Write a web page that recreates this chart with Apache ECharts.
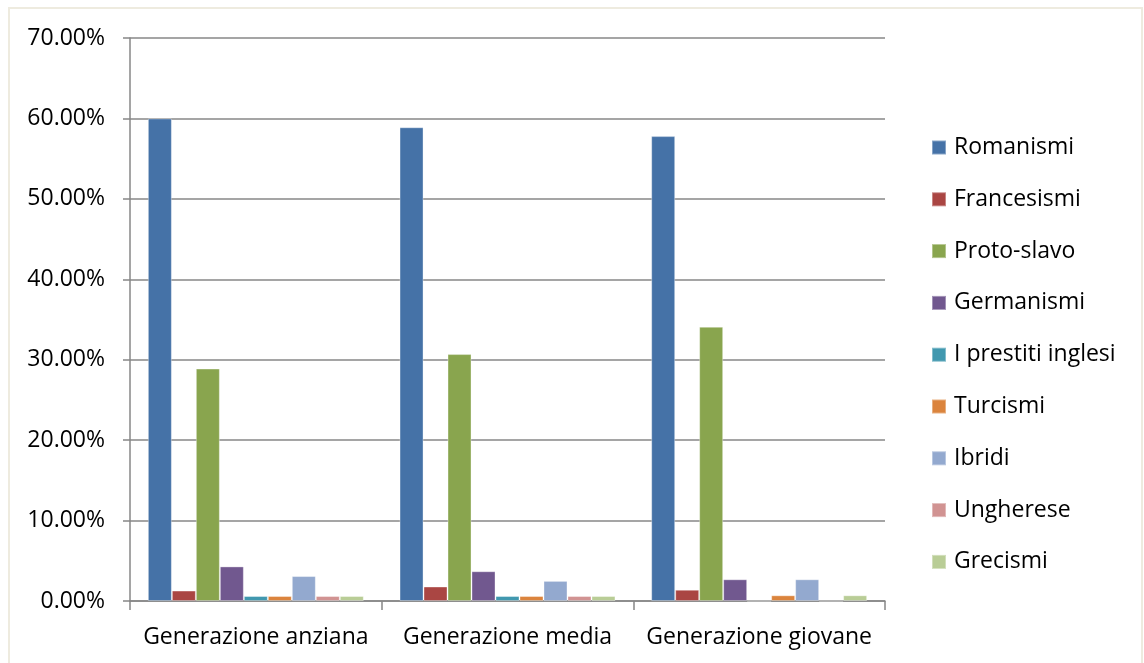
<!DOCTYPE html>
<html>
<head>
<meta charset="utf-8">
<script src="https://cdn.jsdelivr.net/npm/echarts@6/dist/echarts.min.js"></script>
<style>
html,body{margin:0;padding:0;background:#fff;}
#c{width:1144px;height:663px;}
</style>
</head>
<body>
<div id="c"></div>
<script>
const categories = ['Generazione anziana', 'Generazione media', 'Generazione giovane'];
const seriesNames = ['Romanismi', 'Francesismi', 'Proto-slavo', 'Germanismi', 'I prestiti inglesi', 'Turcismi', 'Ibridi', 'Ungherese', 'Grecismi'];
const romanismi = [60.0, 58.9, 57.8];
const francesismi = [1.3, 1.8, 1.4];
const protoSlavo = [28.9, 30.7, 34.1];
const germanismi = [4.3, 3.7, 2.7];
const prestitiInglesi = [0.62, 0.62, 0];
const turcismi = [0.62, 0.62, 0.71];
const ibridi = [3.1, 2.5, 2.7];
const ungherese = [0.62, 0.62, 0];
const grecismi = [0.62, 0.62, 0.71];
const yTicks = [0, 10, 20, 30, 40, 50, 60, 70];

const seriesValues = [romanismi, francesismi, protoSlavo, germanismi, prestitiInglesi, turcismi, ibridi, ungherese, grecismi];
const colors = ['#4572A7', '#AA4643', '#89A54E', '#71588F', '#4198AF', '#DB843D', '#93A9CF', '#D19392', '#B9CD96'];
const font = '"Open Sans", "Noto Sans", sans-serif';

const chart = echarts.init(document.getElementById('c'));
chart.setOption({
  animation: false,
  color: colors,
  graphic: [{
    type: 'rect',
    shape: {x: 9, y: 8, width: 1133, height: 670},
    style: {fill: 'none', stroke: '#eeebdf', lineWidth: 2},
    silent: true
  }],
  grid: {left: 130, right: 259, top: 38, bottom: 62},
  legend: {
    orient: 'vertical',
    left: 931,
    top: 136,
    padding: 0,
    itemWidth: 14,
    itemHeight: 14,
    itemGap: 28.8,
    icon: 'rect',
    textStyle: {fontFamily: font, fontSize: 23, color: '#000', padding: [0, 0, 0, 3]},
    data: seriesNames
  },
  xAxis: {
    type: 'category',
    data: categories,
    axisLine: {lineStyle: {color: '#878787', width: 1.5}},
    axisTick: {show: true, length: 9, lineStyle: {color: '#878787', width: 1.5}},
    axisLabel: {fontFamily: font, fontSize: 23, color: '#000', margin: 25, interval: 0}
  },
  yAxis: {
    type: 'value',
    min: yTicks[0],
    max: yTicks[yTicks.length - 1],
    interval: 10,
    axisLine: {show: true, lineStyle: {color: '#878787', width: 1.5}},
    axisTick: {show: true, length: 7, lineStyle: {color: '#878787', width: 1.5}},
    splitLine: {lineStyle: {color: '#878787', width: 1.5}},
    axisLabel: {fontFamily: font, fontSize: 23, color: '#000', margin: 25,
      formatter: v => v.toFixed(2) + '%'}
  },
  series: seriesNames.map((n, i) => ({
    name: n,
    type: 'bar',
    data: seriesValues[i],
    barGap: '0%',
    barCategoryGap: '14.2%',
    itemStyle: {borderColor: 'rgba(255,255,255,0.35)', borderWidth: 1}
  }))
});
</script>
</body>
</html>
